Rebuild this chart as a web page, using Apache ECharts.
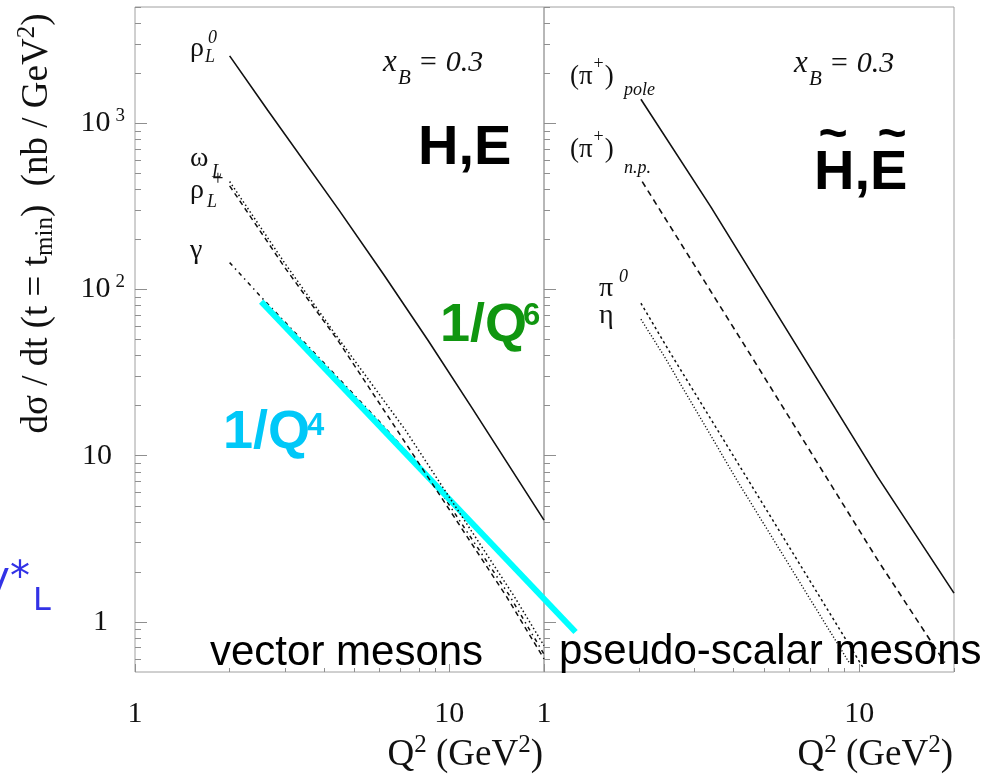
<!DOCTYPE html>
<html><head><meta charset="utf-8">
<script src="https://cdn.jsdelivr.net/npm/echarts@6/dist/echarts.min.js"></script>
<style>html,body{margin:0;padding:0;background:#fff}#c{width:1005px;height:775px}</style>
</head><body><div id="c"></div>
<script>
// ---- data (Q^2 in GeV^2, dsigma/dt in nb/GeV^2) ----
const rhoL0      = [[2.0,2540],[2.64,1200],[4.45,301],[6.18,123],[8.58,49],[11.8,19.4],[20,4.1]];
const omegaL     = [[2.0,446],[2.98,146],[4.3,55],[7.24,14.3],[16.1,1.42],[20,0.72]];
const rhoLPlus   = [[2.0,420],[3.0,135],[4.4,50],[6.81,14.3],[15.2,1.42],[20,0.6]];
const gammaL     = [[2.0,145],[2.52,90],[4.0,36],[6.0,16],[9.0,6.8],[15.5,1.45],[20,0.64]];
const invQ4      = [[2.52,84.5],[25.2,0.87]];
const piPlusPole = [[2.03,1393],[3.38,315],[6.45,43.3],[11.43,7.48],[20,1.49]];
const piPlusNP   = [[2.05,445],[4.42,43.3],[11.43,2.37],[18.7,0.57]];
const pi0        = [[2.03,82.6],[2.52,41.3],[4.51,6.83],[10.3,0.53]];
const eta        = [[2.03,66.2],[2.4,40],[4.15,6.83],[9.35,0.56]];

const xMajorTicks = [1, 10];
const xMinorTicks = [2, 3, 4, 5, 6, 7, 8, 9, 20];
const xTickLabels = ['1', '10'];
const yMajorTicks = [1, 10, 100, 1000];
const yMinorTicks = [0.6,0.7,0.8,0.9,2,3,4,5,6,7,8,9,20,30,40,50,60,70,80,90,200,300,400,500,600,700,800,900,2000,3000,4000,5000];
const yTickBase = ['1', '10', '10', '10'];
const yTickSup  = ['', '', '2', '3'];

// ---- chart ----
const AX = '#8f8f8f';
const SERIF = '"Liberation Serif", "Times New Roman", serif';
const SANS = '"Liberation Sans", Arial, sans-serif';
const X_MIN = 1, X_MAX = 20, X_MAX_EXT = 30, Y_MIN = 0.5, Y_MAX = 5000;
const GRID_W = 409;
function findIdx(arr, v) { for (let i = 0; i < arr.length; i++) if (Math.abs(arr[i] - v) <= arr[i] * 1e-6) return i; return -1; }

function xAx(grid, major) {
  return {
    type: 'log', logBase: 10, gridIndex: grid, min: X_MIN, max: X_MAX, position: 'bottom',
    axisLine: { show: false, onZero: false }, splitLine: { show: false },
    axisTick: { show: true, inside: true, length: major ? 8 : 4, customValues: major ? xMajorTicks : xMinorTicks, lineStyle: { color: AX } },
    axisLabel: { show: major, customValues: xMajorTicks, margin: 27, color: '#111', fontFamily: SERIF, fontSize: 30,
      formatter: v => { const i = findIdx(xMajorTicks, v); return i < 0 ? '' : xTickLabels[i]; } }
  };
}
function yAx(grid, major, labels) {
  return {
    type: 'log', logBase: 10, gridIndex: grid, min: Y_MIN, max: Y_MAX, position: 'left',
    axisLine: { show: false, onZero: false }, splitLine: { show: false },
    axisTick: { show: true, inside: true, length: major ? 12 : 6, customValues: major ? yMajorTicks : yMinorTicks, lineStyle: { color: AX } },
    axisLabel: { show: major && labels, customValues: yMajorTicks, margin: 10, color: '#111',
      formatter: v => {
        const i = findIdx(yMajorTicks, v); if (i < 0) return '';
        if (yTickSup[i]) return '{b|' + yTickBase[i] + '}{s|' + yTickSup[i] + '}';
        return (yTickBase[i].length === 1 ? '{p1|' : '{p2|') + yTickBase[i] + '}';
      },
      rich: {
        b:  { fontFamily: SERIF, fontSize: 30, color: '#111' },
        p1: { fontFamily: SERIF, fontSize: 30, color: '#111', padding: [0, 17, 0, 0] },
        p2: { fontFamily: SERIF, fontSize: 30, color: '#111', padding: [0, 13, 0, 0] },
        s:  { fontFamily: SERIF, fontSize: 19, color: '#111', padding: [0, 0, 14, 5] }
      } }
  };
}
function line(data, xi, yi, type, width, color, extra) {
  return Object.assign({ type: 'line', data, xAxisIndex: xi, yAxisIndex: yi, symbol: 'none', showSymbol: false,
    smooth: false, silent: true, lineStyle: { color, width, type, cap: 'butt' } }, extra || {});
}
function txt(x, y, text, font, o) {
  return { type: 'text', x, y, silent: true, z: 100,
    style: Object.assign({ text, font, fill: '#111', align: 'left', textAlign: 'left', verticalAlign: 'middle', textVerticalAlign: 'middle' }, o || {}) };
}
const F28 = '28px ' + SERIF, I18 = 'italic 18px ' + SERIF;
const piRich = { a: { fontFamily: SERIF, fontSize: 27, fill: '#111' }, s: { fontFamily: SERIF, fontSize: 18, fill: '#111', padding: [0, 1, 26, 1] } };
// extended (hidden) grid sharing the left panel's scale so the 1/Q^4 guide line can run past Q^2 = 20
const extW = GRID_W * Math.log10(X_MAX_EXT / X_MIN) / Math.log10(X_MAX / X_MIN);

const option = {
  animation: false,
  backgroundColor: '#fff',
  grid: [
    { left: 135, top: 7, width: GRID_W, height: 665, show: true, borderColor: '#a0a0a0', borderWidth: 1 },
    { left: 544, top: 7, width: 410, height: 665, show: true, borderColor: '#a0a0a0', borderWidth: 1 },
    { left: 135, top: 7, width: extW, height: 665, show: false }
  ],
  xAxis: [xAx(0, true), xAx(0, false), xAx(1, true), xAx(1, false),
    { type: 'log', logBase: 10, gridIndex: 2, min: X_MIN, max: X_MAX_EXT, show: false, axisLine: { onZero: false } }],
  yAxis: [yAx(0, true, true), yAx(0, false, false), yAx(1, true, false), yAx(1, false, false),
    { type: 'log', logBase: 10, gridIndex: 2, min: Y_MIN, max: Y_MAX, show: false, axisLine: { onZero: false } }],
  series: [
    line(gammaL, 0, 0, [4, 4, 1.5, 4], 1.5, '#111'),
    line(invQ4, 4, 4, 'solid', 6, '#00ffff', { clip: false }),
    line(omegaL, 0, 0, [1.5, 2.5], 1.5, '#111'),
    line(rhoLPlus, 0, 0, [5, 4], 1.5, '#111'),
    line(rhoL0, 0, 0, 'solid', 1.6, '#111'),
    line(piPlusPole, 2, 2, 'solid', 1.6, '#111'),
    line(piPlusNP, 2, 2, [6, 4.5], 1.6, '#111'),
    line(pi0, 2, 2, [2.5, 3], 1.5, '#111'),
    line(eta, 2, 2, [1.2, 2], 1.4, '#111')
  ],
  graphic: [
    // y axis title
    { type: 'text', x: 37.5, y: 223.5, rotation: Math.PI / 2, silent: true,
      style: { text: '{a|d\u03c3 / dt (t = t}{b|min}{a|)  (nb / GeV}{c|2}{a|)}', align: 'center', textAlign: 'center', verticalAlign: 'middle', textVerticalAlign: 'middle',
        rich: { a: { fontFamily: SERIF, fontSize: 37, fill: '#111' },
                b: { fontFamily: SERIF, fontSize: 25, fill: '#111', padding: [16, 0, 0, 0] },
                c: { fontFamily: SERIF, fontSize: 25, fill: '#111', padding: [0, 0, 20, 0] } } } },
    // x axis titles
    { type: 'text', x: 543, y: 755, silent: true,
      style: { text: '{a|Q}{c|2}{a| (GeV}{c|2}{a|)}', align: 'right', textAlign: 'right', verticalAlign: 'middle', textVerticalAlign: 'middle',
        rich: { a: { fontFamily: SERIF, fontSize: 37, fill: '#111' }, c: { fontFamily: SERIF, fontSize: 25, fill: '#111', padding: [0, 0, 20, 0] } } } },
    { type: 'text', x: 953, y: 755, silent: true,
      style: { text: '{a|Q}{c|2}{a| (GeV}{c|2}{a|)}', align: 'right', textAlign: 'right', verticalAlign: 'middle', textVerticalAlign: 'middle',
        rich: { a: { fontFamily: SERIF, fontSize: 37, fill: '#111' }, c: { fontFamily: SERIF, fontSize: 25, fill: '#111', padding: [0, 0, 20, 0] } } } },
    // left panel curve labels
    txt(190, 48.5, '\u03c1', F28), txt(208, 38, '0', I18), txt(205, 57, 'L', I18),
    txt(190, 158.5, '\u03c9', F28), txt(212, 172, 'L', I18), txt(218, 180, '+', '20px ' + SERIF, { align: 'center', textAlign: 'center' }),
    txt(190, 190.5, '\u03c1', F28), txt(207, 202, 'L', I18),
    txt(190, 250.5, '\u03b3', F28),
    // x_B labels
    txt(383, 63, 'x', 'italic 31px ' + SERIF), txt(398, 78, 'B', 'italic 21px ' + SERIF), txt(418, 63, '= 0.3', 'italic 30px ' + SERIF),
    txt(794, 64, 'x', 'italic 31px ' + SERIF), txt(809, 79, 'B', 'italic 21px ' + SERIF), txt(829, 64, '= 0.3', 'italic 30px ' + SERIF),
    // GPD labels
    txt(418, 148.6, 'H,E', 'bold 56px ' + SANS, { fill: '#000' }),
    txt(814, 173.6, 'H,E', 'bold 56px ' + SANS, { fill: '#000' }),
    txt(833, 136, '~', 'bold 50px ' + SANS, { fill: '#000', align: 'center', textAlign: 'center' }),
    txt(892, 136, '~', 'bold 50px ' + SANS, { fill: '#000', align: 'center', textAlign: 'center' }),
    // scaling labels
    txt(223, 433.6, '1/Q', 'bold 54px ' + SANS, { fill: '#00c8f8' }), txt(307, 426.3, '4', 'bold 31px ' + SANS, { fill: '#00c8f8' }),
    txt(440, 326, '1/Q', 'bold 54px ' + SANS, { fill: '#109610' }), txt(523, 316, '6', 'bold 31px ' + SANS, { fill: '#109610' }),
    // panel labels
    txt(210, 653.4, 'vector mesons', '42px ' + SANS, { fill: '#000' }),
    txt(559, 652.4, 'pseudo-scalar mesons', '42px ' + SANS, { fill: '#000' }),
    // gamma*_L
    txt(30, 580, '\u03b3*', '40px "DejaVu Sans", sans-serif', { fill: '#3232e6', align: 'right', textAlign: 'right' }),
    txt(33, 602, 'L', '32px "DejaVu Sans", sans-serif', { fill: '#3232e6' }),
    // right panel curve labels
    { type: 'text', x: 570, y: 77, silent: true, z: 100, style: { text: '{a|(\u03c0}{s|+}{a|)}', align: 'left', verticalAlign: 'middle', rich: piRich } },
    txt(624, 90, 'pole', I18),
    { type: 'text', x: 570, y: 150, silent: true, z: 100, style: { text: '{a|(\u03c0}{s|+}{a|)}', align: 'left', verticalAlign: 'middle', rich: piRich } },
    txt(624, 168, 'n.p.', I18),
    txt(599, 288.5, '\u03c0', F28), txt(619, 277, '0', I18),
    txt(599, 316, '\u03b7', F28)
  ]
};
const chart = echarts.init(document.getElementById('c'), null, { renderer: 'canvas' });
chart.setOption(option);
</script></body></html>
